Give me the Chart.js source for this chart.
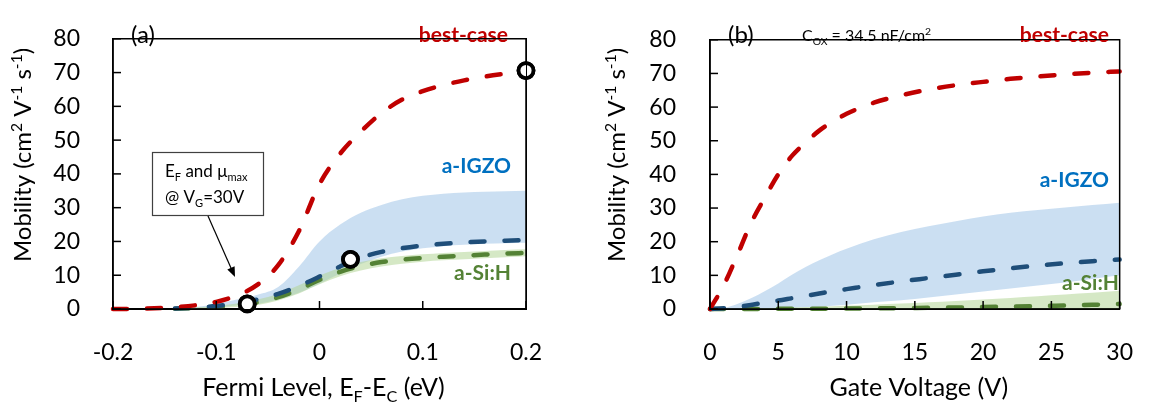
<!DOCTYPE html>
<html>
<head>
<meta charset="utf-8">
<script src="https://cdn.jsdelivr.net/npm/chart.js@4.4.0/dist/chart.umd.min.js"></script>
<style>
  body { margin: 0; background: #fff; }
  #wrap { position: relative; width: 1155px; height: 404px; }
  .panel { position: absolute; top: 0; height: 404px; }
  .outline { position: absolute; box-sizing: border-box; border: 1.5px solid #000; pointer-events: none; }
</style>
</head>
<body>
<div id="wrap">
  <div class="panel" id="panelA" style="left:0;width:580px"><canvas id="chartA"></canvas></div>
  <div class="panel" id="panelB" style="left:580px;width:575px"><canvas id="chartB"></canvas></div>
</div>
<script>
// ---- panel (a): mobility vs Fermi level ----
const efLevels = [-0.2, -0.18, -0.16, -0.14, -0.12, -0.1, -0.08, -0.06, -0.04, -0.02, 0, 0.02, 0.04, 0.06, 0.08, 0.1, 0.12, 0.14, 0.16, 0.18, 0.2];
const bestVsEf = [0, 0.05, 0.2, 0.5, 1.1, 2.1, 4.0, 7.2, 13, 23, 37, 46, 52.5, 58, 62, 64.5, 66.3, 67.7, 68.8, 69.7, 70.5];
const igzoVsEf = [null, null, null, 0.15, 0.4, 0.9, 1.7, 2.8, 4.5, 6.8, 9.6, 12.6, 15.2, 16.9, 18.0, 18.8, 19.3, 19.7, 20.0, 20.2, 20.4];
const siVsEf = [null, null, null, 0.1, 0.3, 0.6, 1.1, 2.0, 3.5, 5.8, 8.6, 11.0, 12.7, 13.9, 14.6, 15.1, 15.5, 15.8, 16.1, 16.4, 16.6];
const igzoLoEf = [null, null, null, 0, 0.2, 0.5, 1.0, 1.5, 2.8, 4.8, 7.5, 10.5, 13.3, 15.5, 17, 18, 18.6, 19, 19.3, 19.5, 19.6];
const igzoHiEf = [null, null, null, 0.2, 0.6, 1.5, 2.8, 4.2, 6.5, 12.5, 20, 25, 28.5, 30.8, 32.5, 33.5, 34.1, 34.5, 34.7, 34.9, 35];
const siLoEf = [null, null, null, 0, 0.1, 0.3, 0.6, 1.2, 2.5, 4.6, 7.3, 9.7, 11.4, 12.6, 13.4, 14.0, 14.4, 14.7, 15.0, 15.3, 15.6];
const siHiEf = [null, null, null, 0.2, 0.5, 0.9, 1.6, 2.8, 4.5, 7.0, 9.9, 12.2, 13.9, 15.0, 15.7, 16.2, 16.6, 16.9, 17.2, 17.5, 17.7];
// operating points at VG = 30 V
const opEf = [-0.07, 0.03, 0.2];
const opMu = [1.5, 14.7, 70.6];

// ---- panel (b): mobility vs gate voltage ----
const vgLevels = [0, 1, 2, 3, 4, 5, 6, 7, 8, 9, 10, 12, 14, 16, 18, 20, 22, 24, 26, 28, 30];
const bestVsVg = [0, 7, 16, 25.5, 33, 40, 45.5, 49.5, 53, 55.7, 58, 61.3, 63.5, 65.2, 66.5, 67.5, 68.4, 69.1, 69.7, 70.2, 70.6];
const igzoVsVg = [0, 0.2, 0.6, 1.2, 1.9, 2.5, 3.2, 3.9, 4.6, 5.3, 5.9, 7.1, 8.2, 9.2, 10.2, 11.2, 12.1, 12.9, 13.6, 14.2, 14.7];
const siVsVg = [0, 0, 0.02, 0.03, 0.04, 0.05, 0.06, 0.08, 0.1, 0.12, 0.15, 0.2, 0.27, 0.35, 0.45, 0.6, 0.7, 0.85, 1.05, 1.25, 1.5];
const igzoLoVg = [0, 0, 0, 0, 0, 0.1, 0.3, 0.5, 0.7, 1.0, 1.3, 2.0, 2.6, 3.4, 4.3, 5.2, 6.1, 7.0, 7.9, 8.9, 10.0];
const igzoHiVg = [0, 0.3, 1.5, 3.2, 5.3, 7.6, 10.2, 12.5, 14.5, 16.3, 17.9, 20.7, 22.9, 24.6, 26.1, 27.5, 28.6, 29.4, 30.2, 30.9, 31.6];
const siLoVg = [0, 0, 0, 0, 0, 0, 0, 0, 0, 0, 0, 0, 0, 0, 0, 0, 0, 0, 0, 0, 0];
const siHiVg = [0, 0.05, 0.1, 0.2, 0.3, 0.4, 0.5, 0.6, 0.7, 0.85, 1.0, 1.3, 1.6, 2.0, 2.4, 2.8, 3.3, 3.8, 4.3, 4.8, 5.4];

// axis ticks
const efTicks = [-0.2, -0.1, 0, 0.1, 0.2];
const vgTicks = [0, 5, 10, 15, 20, 25, 30];
const muTicks = [0, 10, 20, 30, 40, 50, 60, 70, 80];

const FONT = "Lato, 'DejaVu Sans', sans-serif";
const RED = '#c00000', BLUE = '#1f4e79', GREEN = '#548235';
const BLUE_BAND = 'rgba(160, 196, 232, 0.55)', GREEN_BAND = 'rgba(178, 214, 150, 0.55)';

function zip(xs, ys) {
  return xs.map((x, i) => ({ x: x, y: ys[i] }));
}

function curve(xs, ys, color, order) {
  return {
    data: zip(xs, ys), borderColor: color, borderWidth: 4.5, borderDash: [14, 20],
    borderCapStyle: 'round', pointRadius: 0, fill: false, order: order,
    cubicInterpolationMode: 'monotone', clip: false
  };
}

function band(xs, lo, hi, color, order) {
  return [
    { data: zip(xs, lo), borderWidth: 0, pointRadius: 0, fill: false, order: order,
      cubicInterpolationMode: 'monotone', borderColor: 'rgba(0,0,0,0)' },
    { data: zip(xs, hi), borderWidth: 0, pointRadius: 0, fill: '-1', backgroundColor: color,
      order: order, cubicInterpolationMode: 'monotone', borderColor: 'rgba(0,0,0,0)' }
  ];
}

// text with sub/superscript pieces: [text, shift] shift -1 = sub, 1 = sup
function rich(ctx, x, y, parts, size, align, weight) {
  const w = weight || 'normal';
  const widths = parts.map(p => {
    ctx.font = w + ' ' + (p[1] ? size * 0.65 : size) + 'px ' + FONT;
    return ctx.measureText(p[0]).width;
  });
  const total = widths.reduce((a, b) => a + b, 0);
  let cx = align === 'center' ? x - total / 2 : align === 'right' ? x - total : x;
  ctx.textAlign = 'left';
  ctx.textBaseline = 'alphabetic';
  parts.forEach((p, i) => {
    ctx.font = w + ' ' + (p[1] ? size * 0.65 : size) + 'px ' + FONT;
    const dy = p[1] === -1 ? size * 0.22 : p[1] === 1 ? -size * 0.38 : 0;
    ctx.fillText(p[0], cx, y + dy);
    cx += widths[i];
  });
}

const yTitle = [['Mobility (cm', 0], ['2', 1], [' V', 0], ['-1', 1], [' s', 0], ['-1', 1], [')', 0]];

// plot frame + inward tick marks; pixel edges come from the scales
function drawFrame(chart) {
  const ctx = chart.ctx;
  const sx = chart.scales.x, sy = chart.scales.y;
  const L = sx.getPixelForValue(sx.min), R = sx.getPixelForValue(sx.max);
  const T = sy.getPixelForValue(sy.max), B = sy.getPixelForValue(sy.min);
  ctx.save();
  ctx.setLineDash([]);
  ctx.strokeStyle = '#000';
  ctx.lineWidth = 1.5;
  ctx.beginPath();
  ctx.moveTo(L, T); ctx.lineTo(R, T); ctx.lineTo(R, B); ctx.lineTo(L, B); ctx.closePath();
  ctx.stroke();
  muTicks.forEach(v => {
    const py = sy.getPixelForValue(v);
    ctx.beginPath(); ctx.moveTo(L, py); ctx.lineTo(L + 8, py); ctx.stroke();
  });
  sx.ticks.forEach(t => {
    const px = sx.getPixelForValue(t.value);
    ctx.beginPath(); ctx.moveTo(px, B); ctx.lineTo(px, B - 8); ctx.stroke();
  });
  ctx.restore();
}

// plot-area outline as an overlay, placed from the chart area
function outline(chart, panelId) {
  const a = chart.chartArea;
  const box = document.createElement('div');
  box.className = 'outline';
  box.style.left = (a.left - 0.75) + 'px';
  box.style.top = (a.top - 0.75) + 'px';
  box.style.width = (a.right - a.left + 1.5) + 'px';
  box.style.height = (a.bottom - a.top + 1.5) + 'px';
  document.getElementById(panelId).appendChild(box);
}

function axisTitles(ctx, chart, xParts, yX) {
  const a = chart.chartArea;
  ctx.fillStyle = '#000';
  rich(ctx, (a.left + a.right) / 2 + 4, 396, xParts, 25, 'center');
  ctx.save();
  ctx.translate(yX, 155);
  ctx.rotate(-Math.PI / 2);
  rich(ctx, 0, 0, yTitle, 24, 'center');
  ctx.restore();
}

const labelsA = {
  id: 'labelsA',
  afterDraw(chart) {
    const ctx = chart.ctx;
    drawFrame(chart);
    ctx.save();
    axisTitles(ctx, chart, [['Fermi Level, E', 0], ['F', -1], ['-E', 0], ['C', -1], [' (eV)', 0]], 31);
    ctx.fillStyle = '#000';
    rich(ctx, 131, 43, [['(a)', 0]], 24, 'left');
    ctx.fillStyle = RED;
    rich(ctx, 508, 42, [['best-case', 0]], 21, 'right', 'bold');
    ctx.fillStyle = '#0070c0';
    rich(ctx, 511, 173, [['a-IGZO', 0]], 21, 'right', 'bold');
    ctx.fillStyle = GREEN;
    rich(ctx, 511, 280, [['a-Si:H', 0]], 21, 'right', 'bold');
    // callout box and arrow
    ctx.fillStyle = '#fff';
    ctx.fillRect(152, 152, 112, 64);
    ctx.strokeStyle = '#404040';
    ctx.lineWidth = 1.2;
    ctx.strokeRect(152.5, 152.5, 111, 63);
    ctx.fillStyle = '#000';
    rich(ctx, 165, 177, [['E', 0], ['F', -1], [' and \u03bc', 0], ['max', -1]], 17, 'left');
    rich(ctx, 165, 203, [['@ V', 0], ['G', -1], ['=30V', 0]], 17, 'left');
    const x0 = 208, y0 = 216, x1 = 235, y1 = 277;
    const ang = Math.atan2(y1 - y0, x1 - x0);
    ctx.strokeStyle = '#000';
    ctx.beginPath();
    ctx.moveTo(x0, y0);
    ctx.lineTo(x1 - 8 * Math.cos(ang), y1 - 8 * Math.sin(ang));
    ctx.stroke();
    ctx.beginPath();
    ctx.moveTo(x1, y1);
    ctx.lineTo(x1 - 10 * Math.cos(ang) + 4 * Math.sin(ang), y1 - 10 * Math.sin(ang) - 4 * Math.cos(ang));
    ctx.lineTo(x1 - 10 * Math.cos(ang) - 4 * Math.sin(ang), y1 - 10 * Math.sin(ang) + 4 * Math.cos(ang));
    ctx.closePath();
    ctx.fill();
    // operating-point rings stay above the frame
    const sx = chart.scales.x, sy = chart.scales.y;
    ctx.strokeStyle = '#000';
    ctx.fillStyle = '#fff';
    ctx.lineWidth = 3.8;
    opEf.forEach((v, i) => {
      ctx.beginPath();
      ctx.arc(sx.getPixelForValue(v), sy.getPixelForValue(opMu[i]), 7.5, 0, Math.PI * 2);
      ctx.fill();
      ctx.stroke();
    });
    ctx.restore();
  }
};

const labelsB = {
  id: 'labelsB',
  afterDraw(chart) {
    const ctx = chart.ctx;
    drawFrame(chart);
    ctx.save();
    axisTitles(ctx, chart, [['Gate Voltage (V)', 0]], 45);
    ctx.fillStyle = '#000';
    rich(ctx, 148, 43, [['(b)', 0]], 24, 'left');
    rich(ctx, 222, 41, [['C', 0], ['OX', -1], [' = 34.5 nF/cm', 0], ['2', 1]], 16, 'left');
    ctx.fillStyle = RED;
    rich(ctx, 529, 42, [['best-case', 0]], 21, 'right', 'bold');
    ctx.fillStyle = '#0070c0';
    rich(ctx, 529, 187, [['a-IGZO', 0]], 21, 'right', 'bold');
    ctx.fillStyle = GREEN;
    rich(ctx, 539, 290, [['a-Si:H', 0]], 21, 'right', 'bold');
    ctx.restore();
  }
};

function axes(xMin, xMax, xTicks, yWidth, yPad) {
  return {
    x: {
      type: 'linear', min: xMin, max: xMax,
      afterBuildTicks: s => { s.ticks = xTicks.map(v => ({ value: v })); },
      afterFit: s => { s.height = 95; },
      grid: { display: false }, border: { display: true, color: '#000', width: 1.5 },
      ticks: { color: '#000', font: { family: FONT, size: 23 }, padding: 22, maxRotation: 0,
               callback: v => String(v) }
    },
    y: {
      min: 0, max: 80,
      afterBuildTicks: s => { s.ticks = muTicks.map(v => ({ value: v })); },
      afterFit: s => { s.width = yWidth; },
      grid: { display: false }, border: { display: true, color: '#000', width: 1.5 },
      ticks: { color: '#000', font: { family: FONT, size: 23 }, padding: yPad }
    }
  };
}

const common = {
  responsive: true, maintainAspectRatio: false, animation: false,
  plugins: { legend: { display: false }, tooltip: { enabled: false } },
  elements: { line: { tension: 0.4 } }
};

const chartA = new Chart(document.getElementById('chartA'), {
  type: 'line',
  data: {
    datasets: [
      { data: zip(opEf, opMu), showLine: false, pointRadius: 7.5, pointBorderWidth: 3.8,
        pointBorderColor: '#000', pointBackgroundColor: '#fff', order: 0, clip: false },
      curve(efLevels, bestVsEf, RED, 1),
      curve(efLevels, igzoVsEf, BLUE, 2),
      curve(efLevels, siVsEf, GREEN, 3),
      ...band(efLevels, siLoEf, siHiEf, GREEN_BAND, 5),
      ...band(efLevels, igzoLoEf, igzoHiEf, BLUE_BAND, 6)
    ]
  },
  options: Object.assign({}, common, {
    layout: { padding: { left: 0, top: 16, right: 54, bottom: 0 } },
    scales: axes(-0.2, 0.2, efTicks, 113, 25)
  }),
  plugins: [labelsA]
});

const chartB = new Chart(document.getElementById('chartB'), {
  type: 'line',
  data: {
    datasets: [
      curve(vgLevels, bestVsVg, RED, 1),
      curve(vgLevels, igzoVsVg, BLUE, 2),
      curve(vgLevels, siVsVg, GREEN, 3),
      ...band(vgLevels, siLoVg, siHiVg, GREEN_BAND, 5),
      ...band(vgLevels, igzoLoVg, igzoHiVg, BLUE_BAND, 6)
    ]
  },
  options: Object.assign({}, common, {
    layout: { padding: { left: 0, top: 16, right: 31, bottom: 0 } },
    scales: axes(0, 30, vgTicks, 130, 26)
  }),
  plugins: [labelsB]
});

outline(chartA, 'panelA');
outline(chartB, 'panelB');
</script>
</body>
</html>
